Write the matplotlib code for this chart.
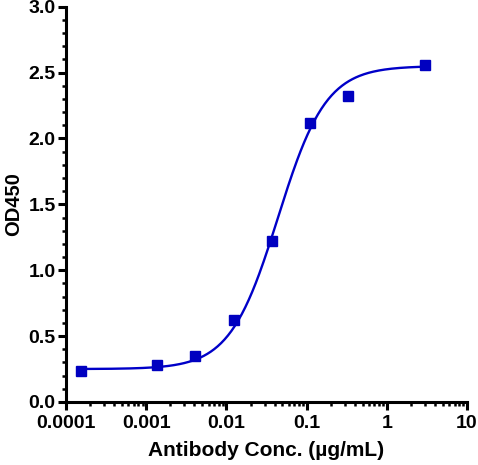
import numpy as np
import matplotlib.pyplot as plt
from matplotlib.ticker import LogLocator, MultipleLocator, FixedFormatter, FixedLocator

# measured points
conc = [0.000152, 0.00137, 0.00412, 0.0123, 0.037, 0.111, 0.333, 3.0]
od450 = [0.235, 0.28, 0.35, 0.62, 1.22, 2.12, 2.32, 2.56]

# 4PL fit parameters
bottom = 0.25
top = 2.55
ec50 = 0.044
hill = 1.45

x_ticks = [0.0001, 0.001, 0.01, 0.1, 1, 10]
x_ticklabels = ["0.0001", "0.001", "0.01", "0.1", "1", "10"]
y_ticks = [0.0, 0.5, 1.0, 1.5, 2.0, 2.5, 3.0]

plt.rcParams['font.family'] = ['Liberation Sans', 'DejaVu Sans']
plt.rcParams['font.weight'] = 'bold'

fig = plt.figure(figsize=(4.78, 4.65), dpi=100)
ax = fig.add_axes([0.138, 0.1355, 0.839, 0.85])

xs = np.logspace(np.log10(conc[0]), np.log10(conc[-1]), 300)
ys = bottom + (top - bottom) / (1 + (ec50 / xs) ** hill)
color = "#0000C8"
ax.plot(xs, ys, color=color, lw=1.7, zorder=2)
ax.plot(conc, od450, 's', color="#0000C0", ms=7.8, zorder=3)

ax.set_xscale('log')
ax.set_xlim(0.0001, 10)
ax.set_ylim(0, 3.0)
ax.xaxis.set_major_locator(FixedLocator(x_ticks))
ax.xaxis.set_major_formatter(FixedFormatter(x_ticklabels))
ax.xaxis.set_minor_locator(LogLocator(base=10, subs=np.arange(2, 10)))
ax.set_yticks(y_ticks)
ax.yaxis.set_major_formatter(plt.FormatStrFormatter('%.1f'))
ax.yaxis.set_minor_locator(MultipleLocator(0.1))

for s in ['top', 'right']:
    ax.spines[s].set_visible(False)
for s in ['left', 'bottom']:
    ax.spines[s].set_linewidth(2.2)

ax.tick_params(which='major', length=5.5, width=2.2, labelsize=14, pad=2)
ax.tick_params(axis='x', which='major', pad=4)
ax.tick_params(which='minor', length=2.8, width=1.8)

ax.set_xlabel("Antibody Conc. (µg/mL)", fontsize=15, fontweight='bold', labelpad=6)
ax.set_ylabel("OD450", fontsize=14.5, fontweight='bold', labelpad=4)

fig.savefig("out.png", dpi=100)
